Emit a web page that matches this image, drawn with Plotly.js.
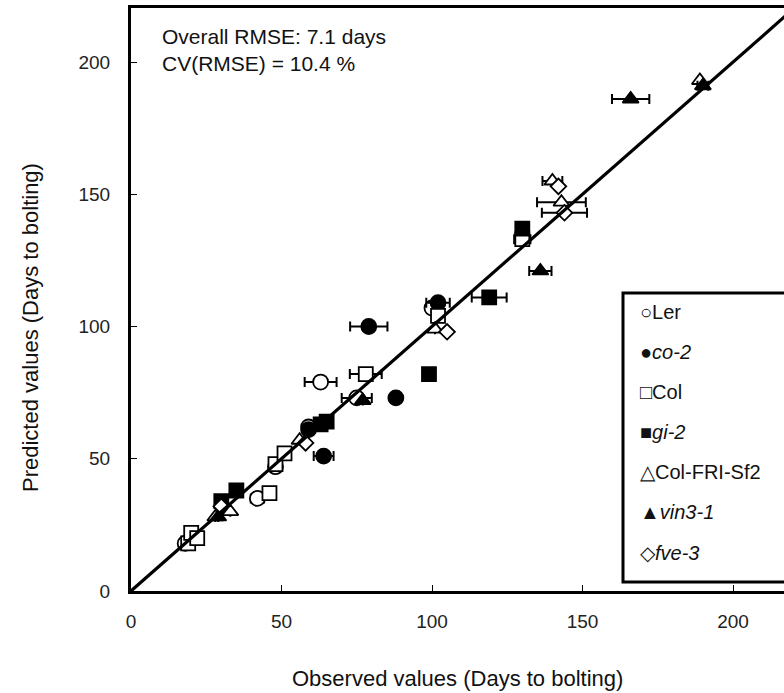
<!DOCTYPE html>
<html>
<head>
<meta charset="utf-8">
<script src="https://cdn.plot.ly/plotly-3.0.1.min.js"></script>
<style>
  html, body { margin: 0; padding: 0; background: #fff; }
  #chart { width: 784px; height: 693px; }
</style>
</head>
<body>
<div id="chart"></div>
<script>
// Observed vs predicted days to bolting, one array set per genotype.
const lerObs  = [18, 42, 48, 59, 63, 75, 100];
const lerPred = [18, 35, 47, 62, 79, 73, 107];
const lerErr  = [0, 2.2, 0, 0, 5.3, 5, 0];

const co2Obs  = [59, 64, 79, 88, 102];
const co2Pred = [61, 51, 100, 73, 109];
const co2Err  = [0, 3.3, 6.2, 0, 3.9];

const colObs  = [19, 20, 22, 46, 48, 51, 78, 102, 130];
const colPred = [18, 22, 20, 37, 48, 52, 82, 104, 133];
const colErr  = [0, 0, 0, 0, 0, 0, 5.3, 0, 2.7];

const gi2Obs  = [30, 35, 63, 65, 99, 119, 130];
const gi2Pred = [34, 38, 63, 64, 82, 111, 137];
const gi2Err  = [0, 0, 0, 0, 0, 5.8, 0];

const friObs  = [28, 33, 56, 101, 140, 143, 189];
const friPred = [28, 30, 57, 99, 155, 147, 193];
const friErr  = [0, 0, 0, 0, 3.3, 8.1, 0];

const vinObs  = [29, 77, 136, 166, 190];
const vinPred = [28, 72, 121, 186, 191];
const vinErr  = [0, 0, 3.7, 6.2, 1.8];

const fveObs  = [30, 58, 105, 142, 144];
const fvePred = [32, 56, 98, 153, 143];
const fveErr  = [0, 0, 0, 0, 7.5];

// 1:1 reference line
const lineX = [0, 240];
const lineY = [0, 240];

const tickVals = [0, 50, 100, 150, 200];
const rmseText = 'Overall RMSE: 7.1 days<br>CV(RMSE) = 10.4 %';
const xTitle = 'Observed values (Days to bolting)';
const yTitle = 'Predicted values (Days to bolting)';

const series = [
  { name: 'Ler',         label: '○Ler',           x: lerObs, y: lerPred, e: lerErr, symbol: 'circle',      fill: '#fff' },
  { name: 'co-2',        label: '●<i>co-2</i>',   x: co2Obs, y: co2Pred, e: co2Err, symbol: 'circle',      fill: '#000' },
  { name: 'Col',         label: '□Col',           x: colObs, y: colPred, e: colErr, symbol: 'square',      fill: '#fff' },
  { name: 'gi-2',        label: '■<i>gi-2</i>',   x: gi2Obs, y: gi2Pred, e: gi2Err, symbol: 'square',      fill: '#000' },
  { name: 'Col-FRI-Sf2', label: '△Col-FRI-Sf2',   x: friObs, y: friPred, e: friErr, symbol: 'triangle-up', fill: '#fff' },
  { name: 'vin3-1',      label: '▲<i>vin3-1</i>', x: vinObs, y: vinPred, e: vinErr, symbol: 'triangle-up', fill: '#000' },
  { name: 'fve-3',       label: '◇<i>fve-3</i>',  x: fveObs, y: fvePred, e: fveErr, symbol: 'diamond',     fill: '#fff' }
];

const markerSize = { 'circle': 15, 'square': 14, 'triangle-up': 14, 'diamond': 12 };

const traces = series.map(s => ({
  type: 'scatter',
  mode: 'markers',
  name: s.name,
  x: s.x,
  y: s.y,
  error_x: { type: 'data', array: s.e, visible: true, color: '#000', thickness: 2, width: 5 },
  marker: {
    symbol: s.symbol,
    size: markerSize[s.symbol],
    color: s.fill,
    line: { color: '#000', width: 1.8 }
  },
  showlegend: false,
  cliponaxis: false
}));

traces.push({
  type: 'scatter',
  mode: 'lines',
  x: lineX,
  y: lineY,
  line: { color: '#000', width: 3.2 },
  showlegend: false,
  hoverinfo: 'skip'
});

// Plot frame in page pixels, and helpers for paper coordinates
const W = 784, H = 693;
const plotTop = 8, plotBottom = 591, plotLeft = 131, plotRight = 784;
const toPaperY = py => (plotBottom - py) / (plotBottom - plotTop);
const toPaperX = px => (px - plotLeft) / (plotRight - plotLeft);
const FONT = 'Liberation Sans, Arial, sans-serif';

// Legend panel rows, built from the series list
const legendRows = [312, 352, 392, 432, 472, 512, 553];
const annotations = series.map((s, i) => ({
  xref: 'paper', yref: 'paper',
  x: toPaperX(638), y: toPaperY(legendRows[i]),
  xanchor: 'left', yanchor: 'middle',
  text: s.label,
  showarrow: false,
  font: { family: FONT, size: 20, color: '#111' }
}));

annotations.push({
  xref: 'paper', yref: 'paper',
  x: toPaperX(160), y: toPaperY(23),
  xanchor: 'left', yanchor: 'top', align: 'left',
  text: rmseText,
  showarrow: false,
  font: { family: FONT, size: 21, color: '#111' }
});

// Axis titles placed explicitly
annotations.push({
  xref: 'paper', yref: 'paper',
  x: toPaperX(457), y: toPaperY(678),
  xanchor: 'center', yanchor: 'middle',
  text: xTitle, showarrow: false,
  font: { family: FONT, size: 22, color: '#111' }
});
annotations.push({
  xref: 'paper', yref: 'paper',
  x: toPaperX(30), y: toPaperY(328),
  xanchor: 'center', yanchor: 'middle',
  text: yTitle, showarrow: false, textangle: -90,
  font: { family: FONT, size: 22, color: '#111' }
});

const layout = {
  width: W,
  height: H,
  margin: { l: plotLeft, r: W - plotRight, t: plotTop, b: H - plotBottom },
  paper_bgcolor: '#fff',
  plot_bgcolor: '#fff',
  font: { family: FONT, color: '#222' },
  xaxis: {
    range: [0, (plotRight - plotLeft) / 3.01],
    tickvals: tickVals,
    ticks: 'inside', ticklen: 6, tickwidth: 1, tickcolor: '#000',
    showline: true, linecolor: '#000', linewidth: 3, mirror: true,
    showgrid: false, zeroline: false,
    tickfont: { size: 19, color: '#222' },
    ticklabelstandoff: 11
  },
  yaxis: {
    range: [0, (plotBottom - plotTop) / 2.645],
    tickvals: tickVals,
    ticks: 'inside', ticklen: 6, tickwidth: 1, tickcolor: '#000',
    showline: true, linecolor: '#000', linewidth: 3, mirror: true,
    showgrid: false, zeroline: false,
    tickfont: { size: 19, color: '#222' },
    ticklabelstandoff: 14
  },
  shapes: [{
    type: 'rect', xref: 'paper', yref: 'paper',
    x0: toPaperX(623), x1: 1.02, y0: toPaperY(582), y1: toPaperY(293),
    line: { color: '#000', width: 3 }, fillcolor: '#fff', layer: 'above'
  }],
  annotations: annotations,
  showlegend: false
};

Plotly.newPlot('chart', traces, layout, { displayModeBar: false, staticPlot: true });
</script>
</body>
</html>
